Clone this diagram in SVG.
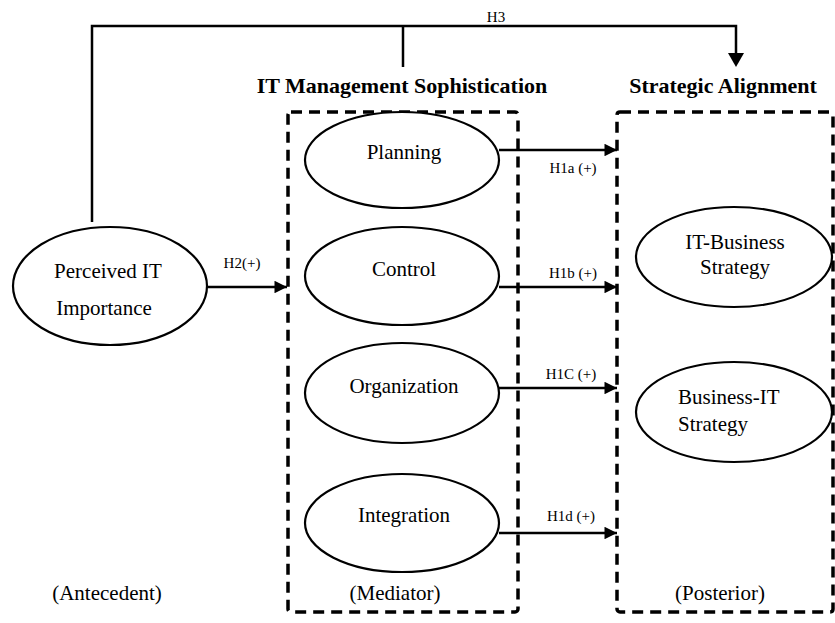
<svg xmlns="http://www.w3.org/2000/svg" width="835" height="623" viewBox="0 0 835 623">
<defs>
<style>
.t{font-family:"Liberation Serif","Times New Roman",serif;fill:#000}
.n{font-size:21px}
.b{font-size:22px;font-weight:bold}
.h{font-size:15px}
.e{fill:#fff;stroke:#000;stroke-width:2.2}
.box{fill:none;stroke:#000;stroke-width:3.5;stroke-dasharray:11 7}
.c{fill:none;stroke:#000;stroke-width:2.5}
</style>
<marker id="ah" viewBox="0 0 10 10" refX="10" refY="5" markerWidth="6" markerHeight="5" markerUnits="strokeWidth" orient="auto">
<path d="M0,0 L10,5 L0,10 Z" fill="#000"/>
</marker>
</defs>
<rect width="835" height="623" fill="#fff"/>
<g id="box-mediator">
<rect class="box" x="288" y="112" width="230" height="500" rx="3"/>
</g>
<g id="box-posterior">
<rect class="box" x="617" y="112" width="216" height="500" rx="3"/>
</g>
<g id="titles">
<text class="t b" x="402" y="93" text-anchor="middle">IT Management Sophistication</text>
<text class="t b" x="723" y="93" text-anchor="middle">Strategic Alignment</text>
</g>
<g id="connectors">
<polyline class="c" points="92,222 92,26 736,26 736,54"/>
<line class="c" x1="403" y1="26" x2="403" y2="67"/>
<path d="M728,53 L744,53 L736,67 Z" fill="#000"/>
<line class="c" x1="208" y1="287" x2="287" y2="287" marker-end="url(#ah)"/>
<line class="c" x1="499" y1="150" x2="617" y2="150" marker-end="url(#ah)"/>
<line class="c" x1="499" y1="287" x2="617" y2="287" marker-end="url(#ah)"/>
<line class="c" x1="499" y1="388" x2="617" y2="388" marker-end="url(#ah)"/>
<line class="c" x1="499" y1="533" x2="617" y2="533" marker-end="url(#ah)"/>
<text class="t h" x="496" y="22" text-anchor="middle">H3</text>
<text class="t h" x="242" y="268" text-anchor="middle">H2(+)</text>
<text class="t h" x="573" y="173" text-anchor="middle">H1a (+)</text>
<text class="t h" x="573" y="278" text-anchor="middle">H1b (+)</text>
<text class="t h" x="571" y="379" text-anchor="middle">H1C (+)</text>
<text class="t h" x="571" y="521" text-anchor="middle">H1d (+)</text>
</g>
<g id="node-perceived">
<ellipse class="e" cx="110" cy="286" rx="97" ry="59"/>
<text class="t n" x="108" y="278" text-anchor="middle">Perceived IT</text>
<text class="t n" x="104" y="315" text-anchor="middle">Importance</text>
</g>
<g id="node-planning">
<ellipse class="e" cx="402" cy="160" rx="97" ry="48"/>
<text class="t n" x="404" y="159" text-anchor="middle">Planning</text>
</g>
<g id="node-control">
<ellipse class="e" cx="402" cy="276" rx="97" ry="49"/>
<text class="t n" x="404" y="276" text-anchor="middle">Control</text>
</g>
<g id="node-organization">
<ellipse class="e" cx="402" cy="393" rx="97" ry="50"/>
<text class="t n" x="404" y="393" text-anchor="middle">Organization</text>
</g>
<g id="node-integration">
<ellipse class="e" cx="402" cy="523" rx="97" ry="49"/>
<text class="t n" x="404" y="522" text-anchor="middle">Integration</text>
</g>
<g id="node-itbusiness">
<ellipse class="e" cx="734" cy="257" rx="98" ry="50"/>
<text class="t n" x="735" y="249" text-anchor="middle">IT-Business</text>
<text class="t n" x="735" y="274" text-anchor="middle">Strategy</text>
</g>
<g id="node-businessit">
<ellipse class="e" cx="734" cy="412" rx="98" ry="50"/>
<text class="t n" x="678" y="404">Business-IT</text>
<text class="t n" x="678" y="431">Strategy</text>
</g>
<g id="labels">
<text class="t n" x="107" y="600" text-anchor="middle">(Antecedent)</text>
<text class="t n" x="395" y="600" text-anchor="middle">(Mediator)</text>
<text class="t n" x="720" y="600" text-anchor="middle">(Posterior)</text>
</g>
</svg>
